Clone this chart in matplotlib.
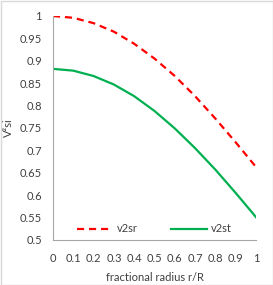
import matplotlib.pyplot as plt
from matplotlib.patches import Rectangle

# fractional radius and the two series
r = [0, 0.1, 0.2, 0.3, 0.4, 0.5, 0.6, 0.7, 0.8, 0.9, 1.0]
v2sr = [1.0, 0.996, 0.984, 0.965, 0.938, 0.905, 0.866, 0.821, 0.771, 0.718, 0.663]
v2st = [0.882, 0.878, 0.866, 0.847, 0.821, 0.788, 0.749, 0.705, 0.657, 0.605, 0.551]

xticks = [0, 0.1, 0.2, 0.3, 0.4, 0.5, 0.6, 0.7, 0.8, 0.9, 1]
xticklabels = ["0", "0.1", "0.2", "0.3", "0.4", "0.5", "0.6", "0.7", "0.8", "0.9", "1"]
yticks = [0.5, 0.55, 0.6, 0.65, 0.7, 0.75, 0.8, 0.85, 0.9, 0.95, 1]
yticklabels = ["0.5", "0.55", "0.6", "0.65", "0.7", "0.75", "0.8", "0.85", "0.9", "0.95", "1"]

plt.rcParams['font.family'] = ['Lato', 'DejaVu Sans']
fs = 8
txt = '#404040'

fig = plt.figure(figsize=(2.73, 2.85), dpi=100)
ax = fig.add_axes([53 / 273, 45 / 285, 203 / 273, 224 / 285])

ax.plot(r, v2sr, color='#FF0000', lw=1.6, dashes=(3.2, 2.2), label='v2sr')
ax.plot(r, v2st, color='#00B050', lw=1.6, label='v2st')

ax.set_xlim(0, 1)
ax.set_ylim(0.5, 1)
ax.set_xticks(xticks)
ax.set_xticklabels(xticklabels)
ax.set_yticks(yticks)
ax.set_yticklabels(yticklabels)
ax.tick_params(length=0, labelsize=fs, labelcolor=txt)
ax.tick_params(axis='x', pad=9)
ax.tick_params(axis='y', pad=8)
for s in ['top', 'right']:
    ax.spines[s].set_visible(False)
for s in ['left', 'bottom']:
    ax.spines[s].set_color('#A6A6A6')
    ax.spines[s].set_linewidth(0.8)

ax.set_xlabel('fractional radius r/R', fontsize=fs, color=txt, labelpad=6)
ax.set_ylabel('V\u00b2si', fontsize=fs, color=txt, labelpad=4)

ax.legend(loc='lower center', ncol=2, frameon=False, fontsize=fs, handlelength=3.2,
          columnspacing=3.0, handletextpad=0.4, bbox_to_anchor=(0.5, -0.02),
          labelcolor=txt)

fig.patches.append(Rectangle((0.5 / 273, 0.5 / 285), 1 - 1 / 273, 1 - 1 / 285,
                             transform=fig.transFigure, fill=False,
                             edgecolor='#D9D9D9', lw=1))

fig.savefig('out.png', dpi=100)
